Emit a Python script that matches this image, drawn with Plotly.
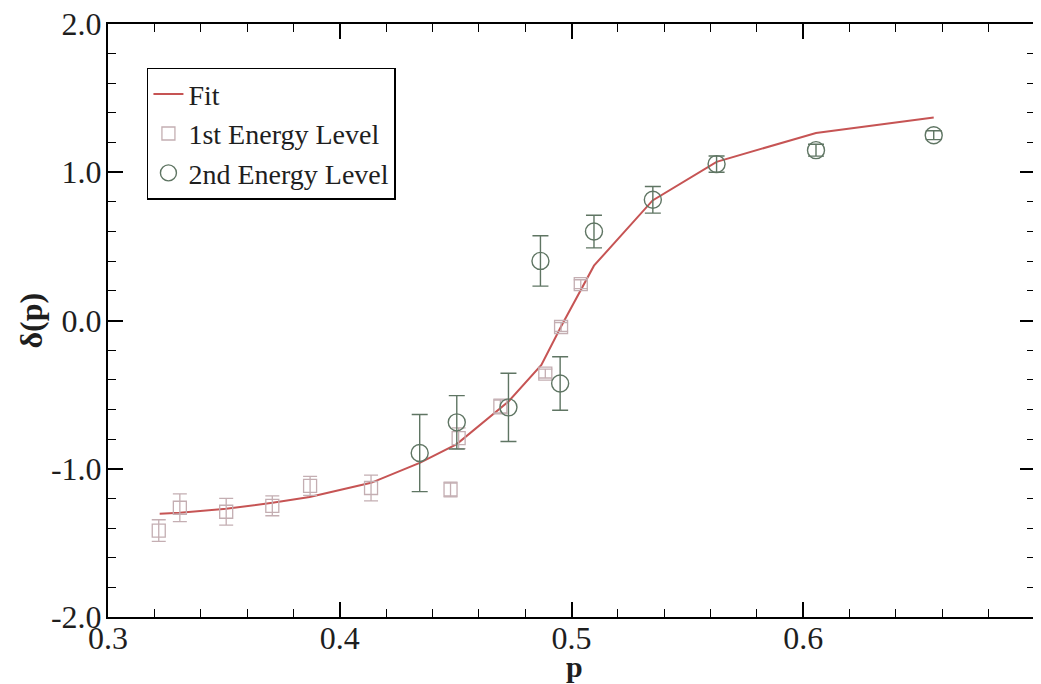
import plotly.graph_objects as go

# Fit curve
fit_p = [0.3223, 0.331, 0.351, 0.371, 0.387, 0.4135, 0.4345, 0.4505, 0.4728,
         0.487, 0.4955, 0.5097, 0.535, 0.5626, 0.6055, 0.6563]
fit_d = [-1.303, -1.297, -1.27, -1.23, -1.19, -1.095, -0.96, -0.834, -0.546,
         -0.30, -0.04, 0.37, 0.81, 1.07, 1.265, 1.37]

# 1st energy level
p1 = [0.3219, 0.331, 0.351, 0.3709, 0.3872, 0.4135, 0.4478, 0.4513, 0.4693,
      0.4887, 0.4955, 0.504]
d1 = [-1.417, -1.263, -1.29, -1.25, -1.116, -1.13, -1.14, -0.794, -0.58,
      -0.358, -0.044, 0.245]
e1 = [0.073, 0.093, 0.09, 0.067, 0.064, 0.087, 0.05, 0.07, 0.05, 0.03, 0.03, 0.03]

# 2nd energy level
p2 = [0.4345, 0.4505, 0.4728, 0.4866, 0.4951, 0.5097, 0.5351, 0.5626, 0.6055, 0.6563]
d2 = [-0.894, -0.687, -0.586, 0.402, -0.425, 0.600, 0.814, 1.055, 1.149, 1.25]
e2 = [0.26, 0.18, 0.23, 0.17, 0.18, 0.11, 0.09, 0.055, 0.04, 0.03]

x_ticks = [0.3, 0.4, 0.5, 0.6]
x_labels = ["0.3", "0.4", "0.5", "0.6"]
y_ticks = [-2.0, -1.0, 0.0, 1.0, 2.0]
y_labels = ["-2.0", "-1.0", "0.0", "1.0", "2.0"]

FONT = "Liberation Serif"
TXT = "#1e1e1e"
RED = "#c65454"
SQ = "#c4aeb2"
CI = "#5f7563"

fig = go.Figure()
fig.add_trace(go.Scatter(x=fit_p, y=fit_d, mode="lines", name="Fit",
                         line=dict(color=RED, width=2)))
fig.add_trace(go.Scatter(x=p1, y=d1, mode="markers", name="1st Energy Level",
                         marker=dict(symbol="square-open", size=13, color=SQ,
                                     line=dict(width=1.3, color=SQ)),
                         error_y=dict(type="data", array=e1, color=SQ,
                                      thickness=1.3, width=7)))
fig.add_trace(go.Scatter(x=p2, y=d2, mode="markers", name="2nd Energy Level",
                         marker=dict(symbol="circle-open", size=17, color=CI,
                                     line=dict(width=1.4, color=CI)),
                         error_y=dict(type="data", array=e2, color=CI,
                                      thickness=1.4, width=8)))
# invisible trace to anchor the mirrored (top/right) tick axes
fig.add_trace(go.Scatter(x=fit_p, y=fit_d, mode="lines", xaxis="x2", yaxis="y2",
                         line=dict(width=0, color="rgba(0,0,0,0)"),
                         showlegend=False, hoverinfo="skip"))

tick_common = dict(showgrid=False, zeroline=False, showline=True, linecolor="black",
                   linewidth=2, ticks="inside", tickcolor="black",
                   tickwidth=1.5, ticklen=15, automargin=False)
minor_x = dict(dtick=0.02, ticks="inside", ticklen=8, tickcolor="black", tickwidth=1.2)
minor_y = dict(dtick=0.2, ticks="inside", ticklen=8, tickcolor="black", tickwidth=1.2)

fig.update_layout(
    width=1033, height=676,
    margin=dict(l=100, r=6, t=16, b=67),
    paper_bgcolor="white", plot_bgcolor="white",
    showlegend=True,
    xaxis=dict(range=[0.3, 0.7], tickvals=x_ticks, ticktext=x_labels,
               minor=minor_x, tickfont=dict(family=FONT, size=32, color=TXT),
               ticklabelstandoff=-8, ticklabeloverflow="allow", **tick_common),
    yaxis=dict(range=[-2.0, 2.0], tickvals=y_ticks, ticktext=y_labels,
               minor=minor_y, tickfont=dict(family=FONT, size=32, color=TXT),
               ticklabelstandoff=-2, ticklabeloverflow="allow", **tick_common),
    xaxis2=dict(range=[0.3, 0.7], overlaying="x", side="top", anchor="y2",
                tickvals=x_ticks, showticklabels=False, minor=minor_x, **tick_common),
    yaxis2=dict(range=[-2.0, 2.0], overlaying="y", side="right", anchor="x2",
                tickvals=y_ticks, showticklabels=False, minor=minor_y, **tick_common),
    legend=dict(x=0.042, y=0.926, xanchor="left", yanchor="top",
                bordercolor="black", borderwidth=1.5, bgcolor="white",
                font=dict(family=FONT, size=28, color=TXT),
                itemwidth=30, tracegroupgap=0),
    annotations=[
        dict(text="<b>p</b>", xref="paper", yref="paper", x=0.5027, y=0,
             yshift=-49, showarrow=False, xanchor="center", yanchor="middle",
             font=dict(family=FONT, size=30, color=TXT)),
        dict(text="<b>δ(p)</b>", xref="paper", yref="paper", x=0, y=0.5,
             xshift=-78, showarrow=False, xanchor="center", yanchor="middle",
             textangle=-90, font=dict(family=FONT, size=32, color=TXT)),
    ],
)

fig.write_html("out.html")
